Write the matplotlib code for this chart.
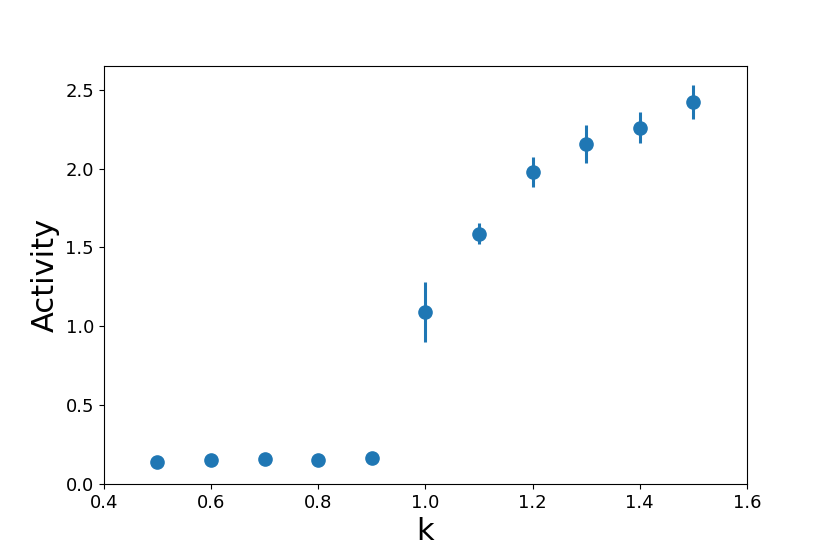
import matplotlib
matplotlib.use('Agg')
import matplotlib.pyplot as plt
import numpy as np

# Activity vs. coupling k, mean with error
k_values = [0.5, 0.6, 0.7, 0.8, 0.9, 1.0, 1.1, 1.2, 1.3, 1.4, 1.5]
activity = [0.140, 0.152, 0.159, 0.152, 0.165, 1.093, 1.587, 1.978, 2.155, 2.258, 2.424]
activity_err = [0.005, 0.005, 0.005, 0.005, 0.005, 0.190, 0.066, 0.098, 0.118, 0.097, 0.108]

fig = plt.figure(figsize=(8.3, 5.54), dpi=100)
ax = fig.add_axes([0.125, 0.126, 0.775, 0.755])

ax.errorbar(k_values, activity, yerr=activity_err, fmt='o', color='#1f77b4',
            markersize=9.5, elinewidth=2.2, capsize=0)

ax.set_xlim(0.4, 1.6)
ax.set_ylim(0.0, 2.65)
ax.set_xticks(np.arange(0.4, 1.61, 0.2))
ax.set_yticks(np.arange(0.0, 2.51, 0.5))
ax.tick_params(labelsize=13)
ax.set_xlabel('k', fontsize=22)
ax.set_ylabel('Activity', fontsize=22)

fig.savefig('out.png', dpi=100)
